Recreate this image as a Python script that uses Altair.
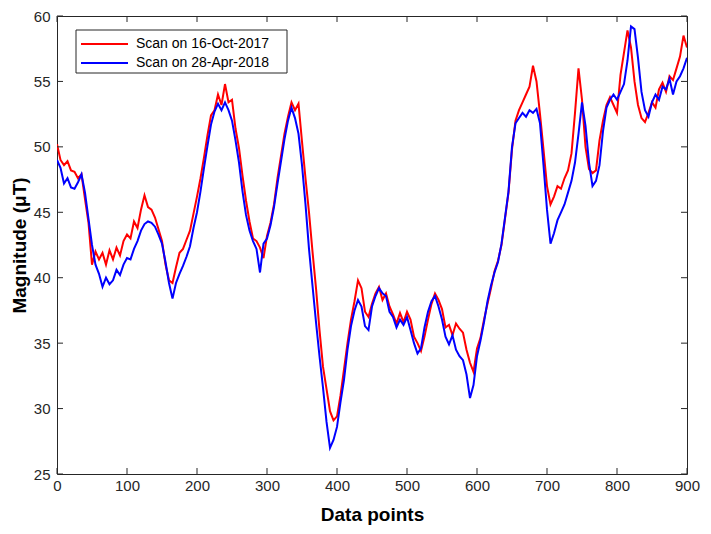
import altair as alt
import pandas as pd

x_points = list(range(0, 901, 5))

red_values = [
    50.2, 49.0, 48.6, 48.9, 48.2, 48.1, 47.6, 47.9, 46.0, 44.2,
    41.0, 42.0, 41.4, 41.9, 41.0, 42.1, 41.4, 42.3, 41.7, 42.8,
    43.3, 43.0, 44.3, 43.8, 45.2, 46.3, 45.4, 45.2, 44.6, 43.7,
    42.8, 41.0, 39.8, 39.6, 40.8, 41.9, 42.2, 42.9, 43.6, 44.9,
    46.2, 47.6, 49.2, 50.9, 52.4, 52.8, 54.0, 53.2, 54.8, 53.4,
    53.6, 51.4, 49.9, 47.8, 45.9, 44.3, 43.0, 42.8, 42.3, 41.5,
    43.2, 44.2, 45.6, 47.6, 49.3, 51.0, 52.3, 53.4, 52.8, 53.3,
    50.4, 47.6, 45.0, 42.0, 39.2, 36.0, 33.2, 31.5, 29.8, 29.1,
    29.4, 31.0, 33.0, 35.0, 36.8, 38.2, 39.8, 39.2, 37.4, 37.0,
    38.0, 38.8, 39.3, 38.3, 38.8, 37.8, 37.2, 36.5, 37.3, 36.6,
    37.4, 36.8, 35.5, 35.0, 34.4, 35.5, 36.8, 38.0, 38.8, 38.3,
    37.6, 36.2, 36.4, 35.6, 36.5, 36.1, 35.8, 34.5, 33.5, 32.8,
    34.6, 35.4, 36.8, 38.0, 39.2, 40.5, 41.3, 42.5, 44.5, 46.5,
    49.8, 52.0, 52.8, 53.4, 54.0, 54.6, 56.2, 55.0, 52.5, 49.8,
    47.0, 45.6, 46.2, 47.0, 46.8, 47.6, 48.2, 49.5, 52.6, 56.0,
    53.6, 50.0, 48.3, 48.0, 48.2, 50.5, 52.0, 53.2, 53.8, 53.2,
    52.6, 55.5, 57.2, 58.9, 57.6, 55.0, 53.2, 52.2, 51.9, 52.6,
    53.4, 53.0, 54.4, 54.9, 54.2, 55.4, 55.1, 56.0, 56.9, 58.5,
    57.6,
]

blue_values = [
    49.0, 48.4, 47.2, 47.6, 46.9, 46.8, 47.3, 47.9, 46.5, 44.5,
    42.5, 41.0, 40.3, 39.3, 40.0, 39.5, 39.8, 40.6, 40.2, 41.0,
    41.5, 41.4, 42.2, 42.8, 43.6, 44.1, 44.3, 44.2, 43.9, 43.3,
    42.6, 41.2, 39.6, 38.4, 39.6, 40.3, 40.9, 41.6, 42.4, 43.8,
    45.0, 46.6, 48.4, 50.1, 51.7, 52.7, 53.3, 52.8, 53.4, 52.8,
    52.0, 50.5, 48.8, 46.6, 44.8, 43.6, 42.8, 42.2, 40.4, 42.6,
    43.0, 44.0, 45.4, 47.2, 48.9, 50.6, 52.0, 53.0, 52.2, 51.0,
    48.6, 45.6, 42.2, 39.4, 36.6, 34.0, 31.6, 29.0, 27.0, 27.6,
    28.6, 30.5, 32.2, 34.5, 36.3, 37.5, 38.3, 37.8, 36.3, 36.0,
    37.8, 38.6, 39.2, 38.8, 38.6, 37.4, 37.0, 36.2, 36.8, 36.4,
    37.0, 36.0, 35.0, 34.2, 34.6, 36.2, 37.4, 38.2, 38.6, 37.8,
    36.8, 35.5, 34.9, 35.6, 34.5, 34.0, 33.7, 32.6, 30.8, 31.8,
    34.0, 35.2, 36.6, 38.2, 39.4, 40.4, 41.2, 42.6, 44.6, 46.6,
    50.0, 51.8, 52.2, 52.6, 52.3, 52.8, 52.6, 52.9, 51.8, 48.6,
    45.2, 42.6, 43.4, 44.4, 45.0, 45.6, 46.5, 47.4, 48.8, 51.0,
    53.4, 51.6, 48.8, 47.0, 47.4, 48.6, 51.2, 53.0, 53.6, 54.0,
    53.6, 54.2, 54.8, 56.6, 59.2, 59.0, 56.8, 54.2, 52.8, 52.3,
    53.4, 54.0, 53.6, 54.6, 54.4, 55.2, 54.0, 55.0, 55.4, 56.0,
    56.8,
]

series_names = ["Scan on 16-Oct-2017", "Scan on 28-Apr-2018"]
series_colors = ["#FF0000", "#0000FF"]
x_ticks = [0, 100, 200, 300, 400, 500, 600, 700, 800, 900]
y_ticks = [25, 30, 35, 40, 45, 50, 55, 60]

W, H = 630, 458
FONT = "Liberation Sans"
TICK_LEN = 6

df = pd.concat([
    pd.DataFrame({"x": x_points, "y": red_values, "series": series_names[0]}),
    pd.DataFrame({"x": x_points, "y": blue_values, "series": series_names[1]}),
])
xt = pd.DataFrame({"v": x_ticks})
yt = pd.DataFrame({"v": y_ticks})

x_scale = alt.Scale(domain=[0, 900], nice=False, zero=False)
y_scale = alt.Scale(domain=[25, 60], nice=False, zero=False)

lines = alt.Chart(df).mark_line(strokeWidth=2, clip=True).encode(
    x=alt.X("x:Q", scale=x_scale,
            axis=alt.Axis(title="Data points", values=x_ticks, ticks=False, domain=False,
                          grid=False, labelPadding=4, titlePadding=12, format="d",
                          labelFlush=False)),
    y=alt.Y("y:Q", scale=y_scale,
            axis=alt.Axis(title="Magnitude (μT)", values=y_ticks, ticks=False, domain=False,
                          grid=False, labelPadding=7, titlePadding=4, format="d",
                          labelFlush=False)),
    color=alt.Color("series:N",
                    scale=alt.Scale(domain=series_names, range=series_colors),
                    legend=None),
    detail="series:N",
)

tick_color = "#262626"
bottom_ticks = alt.Chart(xt).mark_rule(color=tick_color, strokeWidth=1).encode(
    x=alt.X("v:Q", scale=x_scale), y=alt.value(H), y2=alt.value(H - TICK_LEN))
top_ticks = alt.Chart(xt).mark_rule(color=tick_color, strokeWidth=1).encode(
    x=alt.X("v:Q", scale=x_scale), y=alt.value(0), y2=alt.value(TICK_LEN))
left_ticks = alt.Chart(yt).mark_rule(color=tick_color, strokeWidth=1).encode(
    y=alt.Y("v:Q", scale=y_scale), x=alt.value(0), x2=alt.value(TICK_LEN))
right_ticks = alt.Chart(yt).mark_rule(color=tick_color, strokeWidth=1).encode(
    y=alt.Y("v:Q", scale=y_scale), x=alt.value(W), x2=alt.value(W - TICK_LEN))

# legend box (drawn inside the plot, top-left)
LX0, LX1, LY0, LY1 = 19, 230, 14, 57
legend_df = pd.DataFrame({"series": series_names})
legend_box = alt.Chart(legend_df.head(1)).mark_rect(
    fill="#FFFFFF", stroke="#262626", strokeWidth=1
).encode(x=alt.value(LX0), x2=alt.value(LX1), y=alt.value(LY0), y2=alt.value(LY1))

legend_layers = [legend_box]
row_y = [28, 47]
for name, color, ry in zip(series_names, series_colors, row_y):
    d = pd.DataFrame({"series": [name]})
    legend_layers.append(
        alt.Chart(d).mark_rule(color=color, strokeWidth=2).encode(
            x=alt.value(24), x2=alt.value(71), y=alt.value(ry))
    )
    legend_layers.append(
        alt.Chart(d).mark_text(align="left", baseline="middle", font=FONT,
                               fontSize=14, color="#000000").encode(
            text="series:N", x=alt.value(79), y=alt.value(ry))
    )

chart = alt.layer(lines, bottom_ticks, top_ticks, left_ticks, right_ticks,
                  *legend_layers).properties(
    width=W, height=H,
    autosize=alt.AutoSizeParams(type="none"),
    padding={"left": 49, "top": 8, "right": 16, "bottom": 52},
).configure_view(
    stroke="#262626", strokeWidth=1
).configure_axis(
    labelFont=FONT, labelFontSize=15, labelColor="#262626",
    titleFont=FONT, titleFontSize=19, titleFontWeight="bold", titleColor="#000000",
)

chart.save("out.html", embed_options={"renderer": "svg", "actions": False})
